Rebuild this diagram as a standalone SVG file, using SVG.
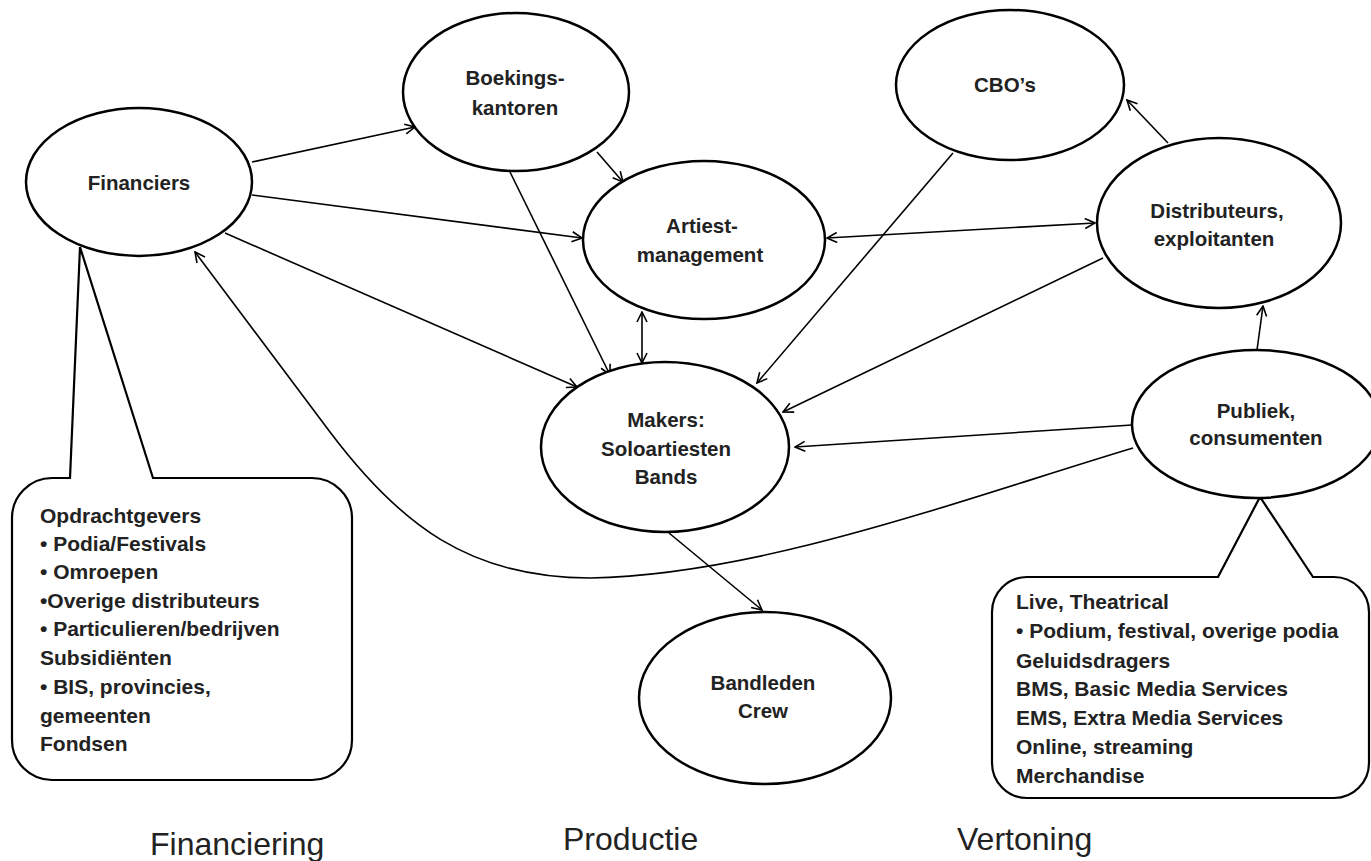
<svg xmlns="http://www.w3.org/2000/svg" width="1371" height="861" viewBox="0 0 1371 861">
<style>
.node{fill:#fff;stroke:#000;stroke-width:2.5}
.lbl{font-family:"Liberation Sans",Arial,sans-serif;font-weight:bold;font-size:20.5px;fill:#222;text-anchor:middle}
.call{fill:#fff;stroke:#000;stroke-width:2.2;stroke-linejoin:miter}
.ct{font-family:"Liberation Sans",Arial,sans-serif;font-weight:bold;font-size:21px;fill:#222}
.cx{fill:none;stroke:#000;stroke-width:1.6}
.sec{font-family:"Liberation Sans",Arial,sans-serif;font-size:32px;fill:#222}
</style>
<defs>
<marker id="ah" viewBox="0 0 12 12" refX="11" refY="6" markerWidth="12" markerHeight="12" markerUnits="userSpaceOnUse" orient="auto-start-reverse">
<path d="M1,1 L11,6 L1,11" fill="none" stroke="#000" stroke-width="1.6"/>
</marker>
</defs>
<rect width="1371" height="861" fill="#fff"/>
<g id="callout-financiering">
<path class="call" d="M70,478 L80,247 L153,478 L312,478 A40,40 0 0 1 352,518 L352,740 A40,40 0 0 1 312,780 L52,780 A40,40 0 0 1 12,740 L12,518 A40,40 0 0 1 52,478 Z"/>
<text class="ct" x="40" y="523">Opdrachtgevers</text>
<text class="ct" x="40" y="551">• Podia/Festivals</text>
<text class="ct" x="40" y="579">• Omroepen</text>
<text class="ct" x="40" y="608">•Overige distributeurs</text>
<text class="ct" x="40" y="636">• Particulieren/bedrijven</text>
<text class="ct" x="40" y="665">Subsidiënten</text>
<text class="ct" x="40" y="694">• BIS, provincies,</text>
<text class="ct" x="40" y="723">gemeenten</text>
<text class="ct" x="40" y="751">Fondsen</text>
</g>
<g id="callout-vertoning">
<path class="call" d="M1218,577 L1260,497 L1313,577 L1334,577 A35,35 0 0 1 1369,612 L1369,763 A35,35 0 0 1 1334,798 L1027,798 A35,35 0 0 1 992,763 L992,612 A35,35 0 0 1 1027,577 Z"/>
<text class="ct" x="1016" y="609">Live, Theatrical</text>
<text class="ct" x="1016" y="638">• Podium, festival, overige podia</text>
<text class="ct" x="1016" y="668">Geluidsdragers</text>
<text class="ct" x="1016" y="696">BMS, Basic Media Services</text>
<text class="ct" x="1016" y="725">EMS, Extra Media Services</text>
<text class="ct" x="1016" y="754">Online, streaming</text>
<text class="ct" x="1016" y="783">Merchandise</text>
</g>
<g id="connectors">
<line class="cx" x1="252" y1="162" x2="415" y2="127" marker-end="url(#ah)"/>
<line class="cx" x1="252" y1="195" x2="582" y2="238" marker-end="url(#ah)"/>
<line class="cx" x1="225" y1="233" x2="577" y2="387" marker-end="url(#ah)"/>
<line class="cx" x1="597" y1="152" x2="623" y2="182" marker-end="url(#ah)"/>
<line class="cx" x1="510" y1="172" x2="610" y2="375" marker-end="url(#ah)"/>
<line class="cx" x1="642" y1="312" x2="642" y2="363" marker-start="url(#ah)" marker-end="url(#ah)"/>
<line class="cx" x1="827" y1="238" x2="1095" y2="223" marker-start="url(#ah)" marker-end="url(#ah)"/>
<line class="cx" x1="953" y1="153" x2="757" y2="383" marker-end="url(#ah)"/>
<line class="cx" x1="1103" y1="258" x2="783" y2="412" marker-end="url(#ah)"/>
<line class="cx" x1="1168" y1="143" x2="1127" y2="100" marker-end="url(#ah)"/>
<line class="cx" x1="1257" y1="350" x2="1263" y2="306" marker-end="url(#ah)"/>
<line class="cx" x1="1132" y1="425" x2="795" y2="447" marker-end="url(#ah)"/>
<path class="cx" d="M1133,448 C960,500 760,575 590,578 C470,578 400,525 330,432 L195,252" marker-end="url(#ah)"/>
<line class="cx" x1="669" y1="533" x2="762" y2="610" marker-end="url(#ah)"/>
</g>
<g id="financiers">
<ellipse class="node" cx="139" cy="182" rx="113" ry="74"/>
<text class="lbl" x="139" y="190">Financiers</text>
</g>
<g id="boekingskantoren">
<ellipse class="node" cx="516" cy="92" rx="113" ry="79"/>
<text class="lbl" x="515" y="85">Boekings-</text>
<text class="lbl" x="515" y="115">kantoren</text>
</g>
<g id="artiestmanagement">
<ellipse class="node" cx="704" cy="240" rx="121" ry="79"/>
<text class="lbl" x="702" y="233">Artiest-</text>
<text class="lbl" x="700" y="262">management</text>
</g>
<g id="cbos">
<ellipse class="node" cx="1010" cy="85" rx="114" ry="75"/>
<text class="lbl" x="1005" y="92">CBO’s</text>
</g>
<g id="distributeurs">
<ellipse class="node" cx="1219" cy="223" rx="122" ry="85"/>
<text class="lbl" x="1217" y="218">Distributeurs,</text>
<text class="lbl" x="1214" y="246">exploitanten</text>
</g>
<g id="publiek">
<ellipse class="node" cx="1256" cy="424" rx="124" ry="74"/>
<text class="lbl" x="1256" y="418">Publiek,</text>
<text class="lbl" x="1256" y="445">consumenten</text>
</g>
<g id="makers">
<ellipse class="node" cx="665" cy="447" rx="124" ry="85"/>
<text class="lbl" x="666" y="427">Makers:</text>
<text class="lbl" x="666" y="456">Soloartiesten</text>
<text class="lbl" x="666" y="484">Bands</text>
</g>
<g id="bandleden">
<ellipse class="node" cx="765" cy="698" rx="126" ry="86"/>
<text class="lbl" x="763" y="690">Bandleden</text>
<text class="lbl" x="763" y="718">Crew</text>
</g>
<g id="sections">
<text class="sec" x="150" y="855">Financiering</text>
<text class="sec" x="563" y="850">Productie</text>
<text class="sec" x="957" y="850">Vertoning</text>
</g>
</svg>
